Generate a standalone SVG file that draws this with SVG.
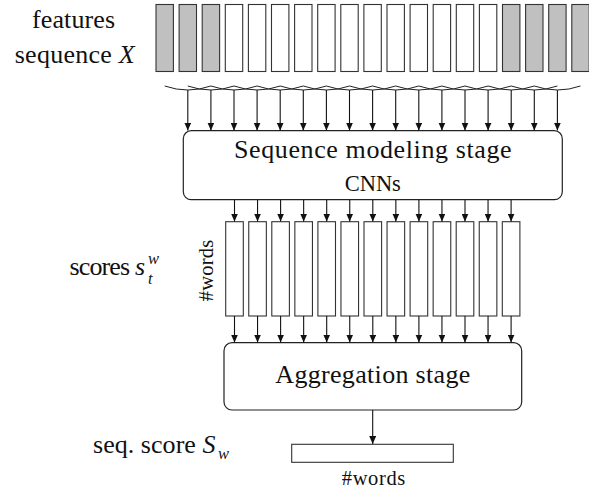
<svg xmlns="http://www.w3.org/2000/svg" width="589" height="491" viewBox="0 0 589 491">
<style>
  text { font-family: "Liberation Serif", "Times New Roman", Times, Tinos, "Nimbus Roman", "TeX Gyre Termes", FreeSerif, "Noto Serif", "DejaVu Serif", serif; fill: #111; }
  .big { font-size: 26px; }
  .mid { font-size: 22.5px; }
  .sm { font-size: 20.5px; }
  .sup { font-size: 16.5px; }
  .it { font-style: italic; }
  .feat { stroke: #333; stroke-width: 1.1; }
  .gray { fill: #c0c0c0; }
  .white { fill: #fff; }
  .stage { fill: #fff; stroke: #222; stroke-width: 1.2; }
  .conn { stroke: #111; stroke-width: 1.1; fill: none; }
  .brace { stroke: #222; stroke-width: 1; fill: none; }
</style>
<defs>
  <marker id="ah" viewBox="0 0 8 7" refX="8" refY="3.5" markerWidth="8" markerHeight="7" markerUnits="userSpaceOnUse" orient="auto">
    <path d="M0,0 L8,3.5 L0,7 z" fill="#111"/>
  </marker>
</defs>
<rect width="589" height="491" fill="#fff"/>

<g id="labels">
  <text class="big" x="73.5" y="28.3" text-anchor="middle" textLength="83">features</text>
  <text class="big" x="74.7" y="63.3" text-anchor="middle" textLength="120">sequence <tspan class="it">X</tspan></text>
  <text class="big" x="145" y="275" text-anchor="end" textLength="75.5">scores <tspan class="it">s</tspan></text>
  <text class="sup it" x="148" y="263.5">w</text>
  <text class="sup it" x="148" y="283.5">t</text>
  <text class="big" x="215.5" y="453.3" text-anchor="end" textLength="122.5">seq. score <tspan class="it">S</tspan></text>
  <text class="sup it" x="218" y="458.5">w</text>
</g>

<g id="features">
  <rect class="feat gray" x="156" y="4.5" width="17.4" height="67"/>
  <rect class="feat gray" x="179.1" y="4.5" width="17.4" height="67"/>
  <rect class="feat gray" x="202.2" y="4.5" width="17.4" height="67"/>
  <rect class="feat white" x="225.3" y="4.5" width="17.4" height="67"/>
  <rect class="feat white" x="248.4" y="4.5" width="17.4" height="67"/>
  <rect class="feat white" x="271.5" y="4.5" width="17.4" height="67"/>
  <rect class="feat white" x="294.6" y="4.5" width="17.4" height="67"/>
  <rect class="feat white" x="317.7" y="4.5" width="17.4" height="67"/>
  <rect class="feat white" x="340.8" y="4.5" width="17.4" height="67"/>
  <rect class="feat white" x="363.9" y="4.5" width="17.4" height="67"/>
  <rect class="feat white" x="387" y="4.5" width="17.4" height="67"/>
  <rect class="feat white" x="410.1" y="4.5" width="17.4" height="67"/>
  <rect class="feat white" x="433.2" y="4.5" width="17.4" height="67"/>
  <rect class="feat white" x="456.3" y="4.5" width="17.4" height="67"/>
  <rect class="feat white" x="479.4" y="4.5" width="17.4" height="67"/>
  <rect class="feat gray" x="502.5" y="4.5" width="17.4" height="67"/>
  <rect class="feat gray" x="525.6" y="4.5" width="17.4" height="67"/>
  <rect class="feat gray" x="548.7" y="4.5" width="17.4" height="67"/>
  <rect class="feat gray" x="571.8" y="4.5" width="17.4" height="67"/>
</g>

<g id="braces">
  <path class="brace" d="M164.7,86 Q187.8,94 210.9,86"/>
  <path class="brace" d="M187.8,86 Q210.9,94 234,86"/>
  <path class="brace" d="M210.9,86 Q234,94 257.1,86"/>
  <path class="brace" d="M234,86 Q257.1,94 280.2,86"/>
  <path class="brace" d="M257.1,86 Q280.2,94 303.3,86"/>
  <path class="brace" d="M280.2,86 Q303.3,94 326.4,86"/>
  <path class="brace" d="M303.3,86 Q326.4,94 349.5,86"/>
  <path class="brace" d="M326.4,86 Q349.5,94 372.6,86"/>
  <path class="brace" d="M349.5,86 Q372.6,94 395.7,86"/>
  <path class="brace" d="M372.6,86 Q395.7,94 418.8,86"/>
  <path class="brace" d="M395.7,86 Q418.8,94 441.9,86"/>
  <path class="brace" d="M418.8,86 Q441.9,94 465,86"/>
  <path class="brace" d="M441.9,86 Q465,94 488.1,86"/>
  <path class="brace" d="M465,86 Q488.1,94 511.2,86"/>
  <path class="brace" d="M488.1,86 Q511.2,94 534.3,86"/>
  <path class="brace" d="M511.2,86 Q534.3,94 557.4,86"/>
  <path class="brace" d="M534.3,86 Q557.4,94 580.5,86"/>
</g>

<g id="seqmodel">
  <rect class="stage" x="183.3" y="130.7" width="379" height="69" rx="8"/>
  <text class="big" x="372.8" y="158.3" text-anchor="middle" textLength="277.5">Sequence modeling stage</text>
  <text class="mid" x="372.8" y="190.5" text-anchor="middle" textLength="56">CNNs</text>
</g>

<g id="scores">
  <rect class="feat white" x="225.7" y="221.7" width="17.6" height="94.3"/>
  <rect class="feat white" x="248.75" y="221.7" width="17.6" height="94.3"/>
  <rect class="feat white" x="271.8" y="221.7" width="17.6" height="94.3"/>
  <rect class="feat white" x="294.85" y="221.7" width="17.6" height="94.3"/>
  <rect class="feat white" x="317.9" y="221.7" width="17.6" height="94.3"/>
  <rect class="feat white" x="340.95" y="221.7" width="17.6" height="94.3"/>
  <rect class="feat white" x="364" y="221.7" width="17.6" height="94.3"/>
  <rect class="feat white" x="387.05" y="221.7" width="17.6" height="94.3"/>
  <rect class="feat white" x="410.1" y="221.7" width="17.6" height="94.3"/>
  <rect class="feat white" x="433.15" y="221.7" width="17.6" height="94.3"/>
  <rect class="feat white" x="456.2" y="221.7" width="17.6" height="94.3"/>
  <rect class="feat white" x="479.25" y="221.7" width="17.6" height="94.3"/>
  <rect class="feat white" x="502.3" y="221.7" width="17.6" height="94.3"/>
  <text class="sm" transform="translate(213,270.5) rotate(-90)" text-anchor="middle" textLength="61.5">#words</text>
</g>

<g id="aggregation">
  <rect class="stage" x="224" y="342.7" width="297.7" height="67.3" rx="8"/>
  <text class="big" x="372.8" y="383.3" text-anchor="middle" textLength="195">Aggregation stage</text>
</g>

<g id="seqscore">
  <rect class="feat white" x="291.7" y="444.3" width="161.6" height="18"/>
  <text class="sm" x="373.5" y="485" text-anchor="middle" textLength="63.5">#words</text>
</g>

<g id="connectors">
  <line class="conn" x1="187.8" y1="90" x2="187.8" y2="130.5" marker-end="url(#ah)"/>
  <line class="conn" x1="210.9" y1="90" x2="210.9" y2="130.5" marker-end="url(#ah)"/>
  <line class="conn" x1="234" y1="90" x2="234" y2="130.5" marker-end="url(#ah)"/>
  <line class="conn" x1="257.1" y1="90" x2="257.1" y2="130.5" marker-end="url(#ah)"/>
  <line class="conn" x1="280.2" y1="90" x2="280.2" y2="130.5" marker-end="url(#ah)"/>
  <line class="conn" x1="303.3" y1="90" x2="303.3" y2="130.5" marker-end="url(#ah)"/>
  <line class="conn" x1="326.4" y1="90" x2="326.4" y2="130.5" marker-end="url(#ah)"/>
  <line class="conn" x1="349.5" y1="90" x2="349.5" y2="130.5" marker-end="url(#ah)"/>
  <line class="conn" x1="372.6" y1="90" x2="372.6" y2="130.5" marker-end="url(#ah)"/>
  <line class="conn" x1="395.7" y1="90" x2="395.7" y2="130.5" marker-end="url(#ah)"/>
  <line class="conn" x1="418.8" y1="90" x2="418.8" y2="130.5" marker-end="url(#ah)"/>
  <line class="conn" x1="441.9" y1="90" x2="441.9" y2="130.5" marker-end="url(#ah)"/>
  <line class="conn" x1="465" y1="90" x2="465" y2="130.5" marker-end="url(#ah)"/>
  <line class="conn" x1="488.1" y1="90" x2="488.1" y2="130.5" marker-end="url(#ah)"/>
  <line class="conn" x1="511.2" y1="90" x2="511.2" y2="130.5" marker-end="url(#ah)"/>
  <line class="conn" x1="534.3" y1="90" x2="534.3" y2="130.5" marker-end="url(#ah)"/>
  <line class="conn" x1="557.4" y1="90" x2="557.4" y2="130.5" marker-end="url(#ah)"/>

  <line class="conn" x1="234.5" y1="200" x2="234.5" y2="221.5" marker-end="url(#ah)"/>
  <line class="conn" x1="257.55" y1="200" x2="257.55" y2="221.5" marker-end="url(#ah)"/>
  <line class="conn" x1="280.6" y1="200" x2="280.6" y2="221.5" marker-end="url(#ah)"/>
  <line class="conn" x1="303.65" y1="200" x2="303.65" y2="221.5" marker-end="url(#ah)"/>
  <line class="conn" x1="326.7" y1="200" x2="326.7" y2="221.5" marker-end="url(#ah)"/>
  <line class="conn" x1="349.75" y1="200" x2="349.75" y2="221.5" marker-end="url(#ah)"/>
  <line class="conn" x1="372.8" y1="200" x2="372.8" y2="221.5" marker-end="url(#ah)"/>
  <line class="conn" x1="395.85" y1="200" x2="395.85" y2="221.5" marker-end="url(#ah)"/>
  <line class="conn" x1="418.9" y1="200" x2="418.9" y2="221.5" marker-end="url(#ah)"/>
  <line class="conn" x1="441.95" y1="200" x2="441.95" y2="221.5" marker-end="url(#ah)"/>
  <line class="conn" x1="465" y1="200" x2="465" y2="221.5" marker-end="url(#ah)"/>
  <line class="conn" x1="488.05" y1="200" x2="488.05" y2="221.5" marker-end="url(#ah)"/>
  <line class="conn" x1="511.1" y1="200" x2="511.1" y2="221.5" marker-end="url(#ah)"/>

  <line class="conn" x1="234.5" y1="316" x2="234.5" y2="342.5" marker-end="url(#ah)"/>
  <line class="conn" x1="257.55" y1="316" x2="257.55" y2="342.5" marker-end="url(#ah)"/>
  <line class="conn" x1="280.6" y1="316" x2="280.6" y2="342.5" marker-end="url(#ah)"/>
  <line class="conn" x1="303.65" y1="316" x2="303.65" y2="342.5" marker-end="url(#ah)"/>
  <line class="conn" x1="326.7" y1="316" x2="326.7" y2="342.5" marker-end="url(#ah)"/>
  <line class="conn" x1="349.75" y1="316" x2="349.75" y2="342.5" marker-end="url(#ah)"/>
  <line class="conn" x1="372.8" y1="316" x2="372.8" y2="342.5" marker-end="url(#ah)"/>
  <line class="conn" x1="395.85" y1="316" x2="395.85" y2="342.5" marker-end="url(#ah)"/>
  <line class="conn" x1="418.9" y1="316" x2="418.9" y2="342.5" marker-end="url(#ah)"/>
  <line class="conn" x1="441.95" y1="316" x2="441.95" y2="342.5" marker-end="url(#ah)"/>
  <line class="conn" x1="465" y1="316" x2="465" y2="342.5" marker-end="url(#ah)"/>
  <line class="conn" x1="488.05" y1="316" x2="488.05" y2="342.5" marker-end="url(#ah)"/>
  <line class="conn" x1="511.1" y1="316" x2="511.1" y2="342.5" marker-end="url(#ah)"/>

  <line class="conn" x1="372.7" y1="410" x2="372.7" y2="444" marker-end="url(#ah)"/>
</g>
</svg>
